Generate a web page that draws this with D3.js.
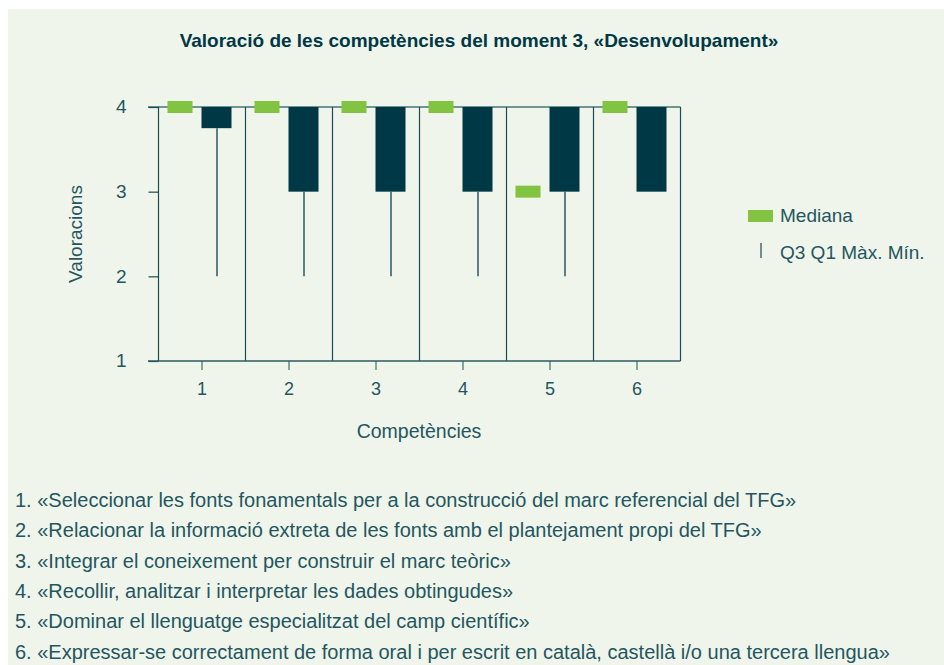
<!DOCTYPE html>
<html>
<head>
<meta charset="utf-8">
<script src="https://cdn.jsdelivr.net/npm/d3@7"></script>
<style>
  body { margin: 0; background: #ffffff; }
  svg { display: block; }
  text { font-family: "Liberation Sans", Arial, sans-serif; fill: #245561; }
</style>
</head>
<body>
<svg id="canvas"></svg>
<script>
// data
let competencies = ['1', '2', '3', '4', '5', '6']
let medians = [4, 4, 4, 4, 3, 4]
let q1s = [3.75, 3, 3, 3, 3, 3]
let q3s = [4, 4, 4, 4, 4, 4]
let maxs = [4, 4, 4, 4, 4, 4]
let mins = [2, 2, 2, 2, 2, 3]
let yTicks = [1, 2, 3, 4]
let descriptions = [
    '1. «Seleccionar les fonts fonamentals per a la construcció del marc referencial del TFG»',
    '2. «Relacionar la informació extreta de les fonts amb el plantejament propi del TFG»',
    '3. «Integrar el coneixement per construir el marc teòric»',
    '4. «Recollir, analitzar i interpretar les dades obtingudes»',
    '5. «Dominar el llenguatge especialitzat del camp científic»',
    '6. «Expressar-se correctament de forma oral i per escrit en català, castellà i/o una tercera llengua»'
]

let width = 944
let height = 665

let dark = '#003845'
let green = '#82c341'
let lineCol = '#1d4b55'

let canvas = d3.select('#canvas')
canvas.attr('width', width)
canvas.attr('height', height)

// panel background
canvas.append('rect')
    .attr('x', 8).attr('y', 9)
    .attr('width', width - 8).attr('height', height - 9)
    .attr('fill', '#eff5ea')

canvas.append('text')
    .attr('x', 479).attr('y', 47)
    .attr('text-anchor', 'middle')
    .style('font-size', '19px')
    .style('font-weight', 'bold')
    .style('fill', dark)
    .text('Valoració de les competències del moment 3, «Desenvolupament»')

let rows = competencies.map((c, i) => ({
    cat: c, median: medians[i], q1: q1s[i], q3: q3s[i], max: maxs[i], min: mins[i]
}))

let xScale = d3.scaleBand()
    .domain(competencies)
    .range([158.5, 680.5])
    .padding(0)

let yScale = d3.scaleLinear()
    .domain([1, 4])
    .range([361, 107])

let center = (c) => xScale(c) + xScale.bandwidth() / 2

// grey line on top (value 4)
canvas.append('line')
    .attr('x1', 148).attr('x2', 680.5)
    .attr('y1', yScale(4)).attr('y2', yScale(4))
    .attr('stroke', '#6f9494')
    .attr('stroke-width', 2)

// category dividers
let dividers = competencies.map((c) => xScale(c)).concat([xScale.range()[1]])
canvas.selectAll('.divider')
    .data(dividers)
    .enter()
    .append('line')
    .attr('class', 'divider')
    .attr('x1', (d) => d).attr('x2', (d) => d)
    .attr('y1', yScale(4)).attr('y2', yScale(1))
    .attr('stroke', lineCol)
    .attr('stroke-width', 1.2)

// y axis
let yAxis = d3.axisLeft(yScale)
    .tickValues(yTicks)
    .tickFormat(d3.format('d'))
    .tickSize(10)
    .tickPadding(22)

let yG = canvas.append('g')
    .attr('id', 'y-axis')
    .attr('transform', 'translate(158.5, 0)')
    .call(yAxis)
yG.select('.domain').remove()
yG.selectAll('line').attr('stroke', lineCol).attr('stroke-width', 1.2)
yG.selectAll('text')
    .style('font-size', '19px')
    .style('font-family', '"Liberation Sans", Arial, sans-serif')
    .style('fill', '#245561')
    .attr('dy', '0.3em')

// x axis
let xAxis = d3.axisBottom(xScale)
    .tickSize(9)
    .tickPadding(12)

let xG = canvas.append('g')
    .attr('id', 'x-axis')
    .attr('transform', `translate(0, ${yScale(1)})`)
    .call(xAxis)
xG.select('.domain').remove()
xG.selectAll('line').attr('stroke', '#5f8a8c').attr('stroke-width', 1.5)
xG.selectAll('text')
    .style('font-size', '18px')
    .style('font-family', '"Liberation Sans", Arial, sans-serif')
    .style('fill', '#245561')

canvas.append('line')
    .attr('x1', 148).attr('x2', 680.5)
    .attr('y1', yScale(1)).attr('y2', yScale(1))
    .attr('stroke', '#2d5a63')
    .attr('stroke-width', 1.5)

// whiskers (min to q1)
canvas.selectAll('.whisker')
    .data(rows.filter((d) => d.min < d.q1))
    .enter()
    .append('line')
    .attr('class', 'whisker')
    .attr('x1', (d) => center(d.cat) + 15).attr('x2', (d) => center(d.cat) + 15)
    .attr('y1', (d) => yScale(d.q1)).attr('y2', (d) => yScale(d.min))
    .attr('stroke', '#2c5660')
    .attr('stroke-width', 1.5)

// boxes q1..q3
canvas.selectAll('.box')
    .data(rows)
    .enter()
    .append('rect')
    .attr('class', 'box')
    .attr('x', (d) => center(d.cat) - 0.5)
    .attr('y', (d) => yScale(d.q3))
    .attr('width', 30)
    .attr('height', (d) => yScale(d.q1) - yScale(d.q3))
    .attr('fill', dark)

// medians
canvas.selectAll('.median')
    .data(rows)
    .enter()
    .append('rect')
    .attr('class', 'median')
    .attr('x', (d) => center(d.cat) - 34.5)
    .attr('y', (d) => yScale(d.median) - 6)
    .attr('width', 25)
    .attr('height', 12)
    .attr('fill', green)

// axis titles
canvas.append('text')
    .attr('transform', 'translate(82, 234) rotate(-90)')
    .attr('text-anchor', 'middle')
    .style('font-size', '19px')
    .text('Valoracions')

canvas.append('text')
    .attr('x', 419).attr('y', 438)
    .attr('text-anchor', 'middle')
    .style('font-size', '19.5px')
    .text('Competències')

// legend
canvas.append('rect')
    .attr('x', 748).attr('y', 210)
    .attr('width', 25).attr('height', 12)
    .attr('fill', green)
canvas.append('text')
    .attr('x', 780).attr('y', 222)
    .style('font-size', '19px')
    .text('Mediana')
canvas.append('line')
    .attr('x1', 761).attr('x2', 761)
    .attr('y1', 243).attr('y2', 258)
    .attr('stroke', '#2c5660')
    .attr('stroke-width', 1.3)
canvas.append('text')
    .attr('x', 780).attr('y', 259)
    .style('font-size', '19px')
    .text('Q3 Q1 Màx. Mín.')

// description list
canvas.selectAll('.desc')
    .data(descriptions)
    .enter()
    .append('text')
    .attr('class', 'desc')
    .attr('x', 15)
    .attr('y', (d, i) => 507 + i * 30.3)
    .style('font-size', '20px')
    .text((d) => d)
</script>
</body>
</html>
